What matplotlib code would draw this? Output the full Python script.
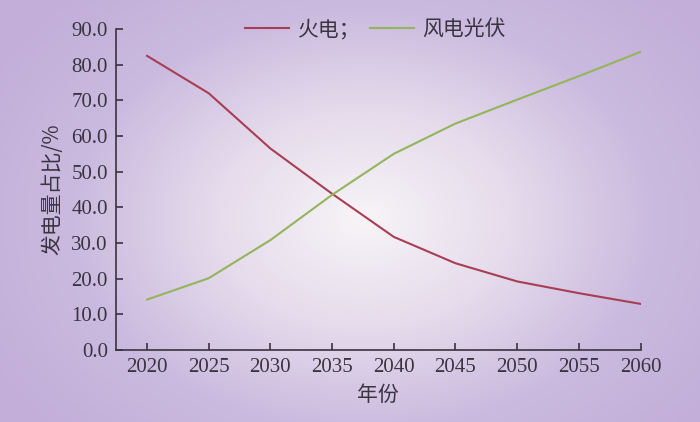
import numpy as np
import matplotlib.pyplot as plt
from matplotlib.colors import LinearSegmentedColormap

# =====================================================
# DATA
# =====================================================

years = [2020, 2025, 2030, 2035, 2040, 2045, 2050, 2055, 2060]
thermal = [82.5, 72.0, 56.5, 43.8, 31.7, 24.3, 19.2, 15.9, 12.9]
wind_solar = [14.1, 20.1, 30.8, 43.5, 55.0, 63.5, 70.2, 76.8, 83.6]
yticks = [0, 10, 20, 30, 40, 50, 60, 70, 80, 90]

RED = "#a83e54"
GREEN = "#93b55c"
AXIS = "#3a3340"
TEXT = "#3a3340"

CJK = ["Noto Sans CJK SC", "DejaVu Sans"]
SERIF = ["Liberation Serif", "DejaVu Serif"]

fig = plt.figure(figsize=(7.0, 4.22), dpi=100)

# background: lavender with a pale centre
bg = fig.add_axes([0, 0, 1, 1], zorder=-10)
bg.set_axis_off()
gx, gy = np.meshgrid(np.linspace(0, 1, 700), np.linspace(0, 1, 422))
r = np.sqrt(((gx - 0.52) / 0.62) ** 2 + ((gy - 0.48) / 0.75) ** 2)
r = np.clip(r, 0, 1)
cmap = LinearSegmentedColormap.from_list(
    "lav", ["#f7f4f7", "#e6dcec", "#cbbadf", "#c2aed9"])
bg.imshow(r, cmap=cmap, aspect="auto", extent=[0, 1, 0, 1], origin="lower")
bg.set_xlim(0, 1)
bg.set_ylim(0, 1)

ax = fig.add_axes([0.166, 0.171, 0.749, 0.760])
ax.patch.set_alpha(0)

ax.plot(years, thermal, color=RED, lw=1.5, label="火电；")
ax.plot(years, wind_solar, color=GREEN, lw=1.5, label="风电光伏")

ax.set_xlim(2017.5, 2060)
ax.set_ylim(0, 90)
ax.set_xticks(years)
ax.set_yticks(yticks)
ax.set_yticklabels([f"{v:.1f}" for v in yticks])

for s in ["top", "right"]:
    ax.spines[s].set_visible(False)
for s in ["left", "bottom"]:
    ax.spines[s].set_color(AXIS)
    ax.spines[s].set_linewidth(1.2)

ax.tick_params(direction="in", length=5, width=1.2, color=AXIS,
               labelcolor=TEXT, labelsize=15, pad=6)
for lbl in ax.get_xticklabels() + ax.get_yticklabels():
    lbl.set_family(SERIF)

ax.set_xlabel("年份", family=CJK, fontsize=15, color=TEXT, labelpad=5)
ax.set_ylabel("发电量占比/%", family=CJK, fontsize=15, color=TEXT, labelpad=6)

leg = ax.legend(loc="center", bbox_to_anchor=(0.495, 1.0), ncol=2,
                frameon=False, handlelength=2.1, handletextpad=0.4,
                columnspacing=0.5, prop={"family": CJK, "size": 15})
for t in leg.get_texts():
    t.set_color(TEXT)

fig.savefig("out.png", dpi=100)
